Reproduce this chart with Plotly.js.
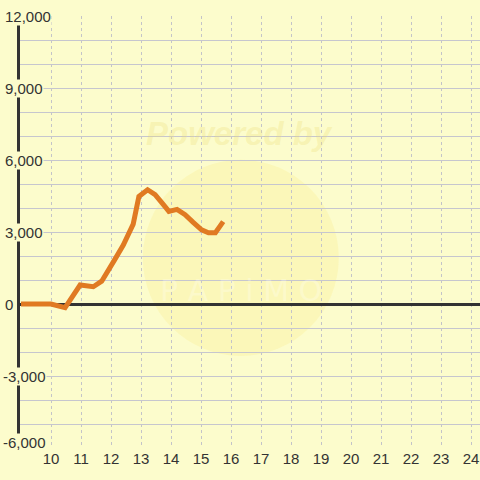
<!DOCTYPE html>
<html>
<head>
<meta charset="utf-8">
<script src="https://cdn.plot.ly/plotly-3.0.1.min.js"></script>
<style>html,body{margin:0;padding:0;background:#fcfccc;}#chart{width:480px;height:480px;}</style>
</head>
<body>
<div id="chart"></div>
<script>
// Data
const hours = [9, 10, 10.47, 10.97, 11.41, 11.69, 12.12, 12.41, 12.74, 12.93, 13.22, 13.47, 13.72, 13.93, 14.2, 14.47, 14.74, 15.02, 15.25, 15.48, 15.74];
const values = [0, 0, -150, 790, 720, 950, 1840, 2460, 3330, 4480, 4760, 4560, 4180, 3860, 3940, 3720, 3400, 3090, 2970, 2970, 3430];
const yTickValues = [12000, 9000, 6000, 3000, 0, -3000, -6000];
const yTickLabels = ["12,000", "9,000", "6,000", "3,000", "0", "-3,000", "-6,000"];
const xTickValues = [10, 11, 12, 13, 14, 15, 16, 17, 18, 19, 20, 21, 22, 23, 24];

const bg = '#fcfccc';
const font = {family: 'Liberation Sans, Arial, sans-serif', size: 15, color: '#333333'};

const trace = {
  x: hours, y: values, type: 'scatter', mode: 'lines',
  line: {color: '#e07a22', width: 5, shape: 'linear'},
  hoverinfo: 'skip'
};

const annotations = yTickValues.map((v, i) => ({
  x: 0, xref: 'paper', y: v, yref: 'y',
  text: yTickLabels[i], showarrow: false,
  xanchor: 'left', yanchor: 'middle',
  xshift: yTickLabels[i].startsWith('-') ? -18 : -16,
  yshift: (i === yTickValues.length - 1) ? 6 : 0,
  bgcolor: bg, borderpad: 0,
  font: font
}));

annotations.push({
  x: 0.478, xref: 'paper', y: 0.729, yref: 'paper', yanchor: 'middle',
  text: '<b><i>Powered by</i></b>', showarrow: false,
  font: {family: 'Liberation Sans, Arial, sans-serif', size: 33, color: 'rgba(236,220,120,0.3)'}
});
annotations.push({
  x: 0.48, xref: 'paper', y: 0.365, yref: 'paper', yanchor: 'middle',
  text: 'P A P i M O', showarrow: false,
  font: {family: 'DejaVu Sans, sans-serif', size: 30, color: 'rgba(255,255,255,0.25)'}
});

const layout = {
  width: 480, height: 480,
  margin: {l: 20, r: 0, t: 16, b: 32, pad: 0},
  paper_bgcolor: bg, plot_bgcolor: bg,
  showlegend: false,
  font: font,
  xaxis: {
    range: [8.9667, 24.3],
    tickvals: xTickValues,
    ticktext: xTickValues.map(String),
    showgrid: true, gridcolor: '#c4c4c8', gridwidth: 1, griddash: 'dot',
    zeroline: false, showline: false, ticks: '',
    tickfont: font, fixedrange: true
  },
  yaxis: {
    range: [-6000, 12000],
    tick0: 0, dtick: 1000,
    showticklabels: false, ticks: '',
    showgrid: true, gridcolor: '#c6c6ce', gridwidth: 1,
    zeroline: true, zerolinecolor: '#333333', zerolinewidth: 3,
    showline: true, linecolor: '#333333', linewidth: 3,
    fixedrange: true
  },
  shapes: [{
    type: 'circle', xref: 'paper', yref: 'paper',
    x0: 0.267, x1: 0.693, y0: 0.213, y1: 0.667,
    fillcolor: 'rgba(250,228,110,0.2)', line: {width: 0}, layer: 'below'
  }],
  annotations: annotations
};

Plotly.newPlot('chart', [trace], layout, {displayModeBar: false, staticPlot: true});
</script>
</body>
</html>
